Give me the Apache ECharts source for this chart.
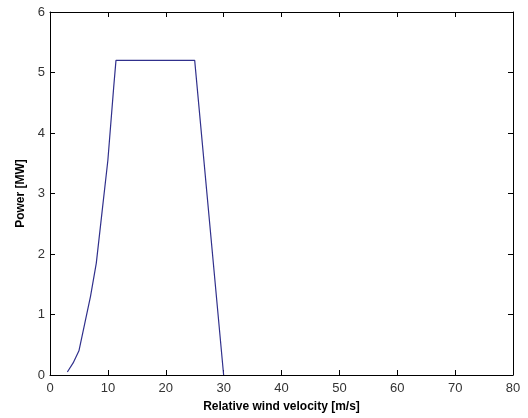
<!DOCTYPE html>
<html>
<head>
<meta charset="utf-8">
<script src="https://cdn.jsdelivr.net/npm/echarts@6/dist/echarts.min.js"></script>
<style>
  html, body { margin: 0; padding: 0; background: #fff; }
  #chart { width: 528px; height: 418px; }
</style>
</head>
<body>
<div id="chart"></div>
<script>
// Wind turbine power curve: power output versus relative wind speed
const windSpeed = [3, 4, 5, 6, 7, 8, 9, 10, 11, 11.4, 25, 30];
const powerMW   = [0.05, 0.2, 0.4, 0.85, 1.3, 1.85, 2.7, 3.55, 4.75, 5.2, 5.2, 0];

const xTicks = { min: 0, max: 80, interval: 10 };
const yTicks = { min: 0, max: 6, interval: 1 };

const font = 'Liberation Sans, Arial, Helvetica, sans-serif';
const axisLine = { show: true, onZero: false, lineStyle: { color: '#000', width: 1 } };
const tickIn = { show: true, inside: true, length: 5, lineStyle: { color: '#000', width: 1 } };
const labelStyle = { color: '#333', fontFamily: font, fontSize: 13 };

const chart = echarts.init(document.getElementById('chart'), null, { renderer: 'canvas' });
chart.setOption({
  animation: false,
  backgroundColor: '#fff',
  grid: { left: 50, right: 15, top: 12, bottom: 43 },
  xAxis: [
    {
      type: 'value', min: xTicks.min, max: xTicks.max, interval: xTicks.interval,
      position: 'bottom',
      name: 'Relative wind velocity [m/s]', nameLocation: 'middle', nameGap: 26,
      nameTextStyle: { color: '#000', fontFamily: font, fontSize: 12, fontWeight: 'bold' },
      axisLine: axisLine, axisTick: tickIn,
      axisLabel: Object.assign({ margin: 7 }, labelStyle),
      splitLine: { show: false }
    },
    {
      type: 'value', min: xTicks.min, max: xTicks.max, interval: xTicks.interval,
      position: 'top',
      axisLine: axisLine, axisTick: tickIn,
      axisLabel: { show: false }, splitLine: { show: false }
    }
  ],
  yAxis: [
    {
      type: 'value', min: yTicks.min, max: yTicks.max, interval: yTicks.interval,
      position: 'left',
      name: 'Power [MW]', nameLocation: 'middle', nameGap: 21,
      nameTextStyle: { color: '#000', fontFamily: font, fontSize: 12, fontWeight: 'bold' },
      axisLine: axisLine, axisTick: tickIn,
      axisLabel: Object.assign({ margin: 5 }, labelStyle),
      splitLine: { show: false }
    },
    {
      type: 'value', min: yTicks.min, max: yTicks.max, interval: yTicks.interval,
      position: 'right',
      axisLine: axisLine, axisTick: tickIn,
      axisLabel: { show: false }, splitLine: { show: false }
    }
  ],
  series: [{
    type: 'line',
    xAxisIndex: 0, yAxisIndex: 0,
    data: windSpeed.map((v, i) => [v, powerMW[i]]),
    showSymbol: false,
    lineStyle: { color: '#30308c', width: 1.2 },
    silent: true
  }]
});
</script>
</body>
</html>
